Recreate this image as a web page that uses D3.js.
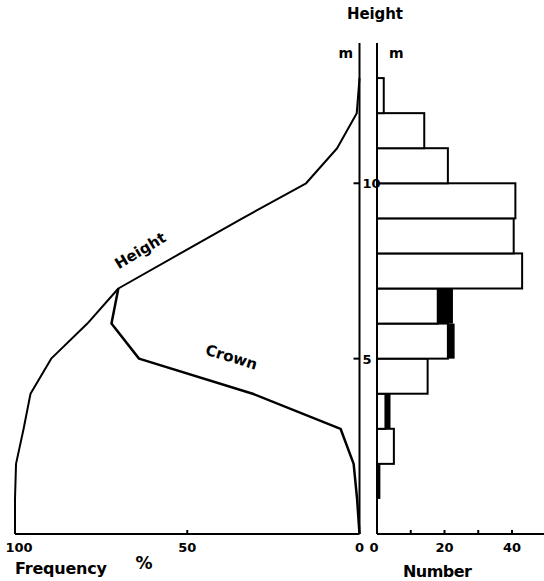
<!DOCTYPE html>
<html>
<head>
<meta charset="utf-8">
<script src="https://cdn.jsdelivr.net/npm/d3@7"></script>
<style>
  body { margin: 0; background: #fff; }
  text { font-family: "DejaVu Sans", sans-serif; font-weight: bold; fill: #000; }
</style>
</head>
<body>
<script>
// left panel: cumulative frequency (%) by height (m)
const freqHeights = [0, 1, 2, 3, 4, 5, 6, 7, 8, 9, 10, 11, 12, 13]
const heightFreq = [100, 100, 99.7, 97.5, 95.5, 89.5, 79, 70, 52, 34, 15.5, 6.5, 0.8, 0]
const crownHeights = [0, 1, 2, 3, 4, 5, 6, 7]
const crownFreq = [0, 0.7, 1.7, 5.5, 31, 64, 72, 70]

// right panel: number of trees per 1 m height class
const binLow = [0, 1, 2, 3, 4, 5, 6, 7, 8, 9, 10, 11, 12, 13]
const whiteCount = [0, 0, 5, 2.5, 15, 21, 18, 43, 40.5, 41, 21, 14, 2, 0]
const blackCount = [0, 1, 0, 1.5, 0, 2, 4.5, 0, 0, 0, 0, 0, 0, 0]

const freqTicks = [100, 50, 0]
const numTickLabels = [0, 20, 40]
const numTicks = [10, 20, 30, 40]
const heightTicks = [5, 10]

const width = 544
const height = 581

const svg = d3.select("body")
  .append("svg")
  .attr("width", width)
  .attr("height", height)

const y = d3.scaleLinear().domain([0, 14]).range([534, 43])
const xF = d3.scaleLinear().domain([100, 0]).range([15, 359.5])
const xN = d3.scaleLinear().domain([0, 40]).range([377, 512])

// histogram bars
const bins = binLow.map((b, i) => ({ lo: b, w: whiteCount[i], k: blackCount[i] }))

svg.selectAll("rect.white")
  .data(bins.filter(d => d.w > 0))
  .enter()
  .append("rect")
  .attr("class", "white")
  .attr("x", xN(0))
  .attr("y", d => y(d.lo + 1))
  .attr("width", d => xN(d.w) - xN(0))
  .attr("height", d => y(d.lo) - y(d.lo + 1))
  .attr("fill", "#fff")
  .attr("stroke", "#000")
  .attr("stroke-width", 2)

svg.selectAll("rect.black")
  .data(bins.filter(d => d.k > 0))
  .enter()
  .append("rect")
  .attr("class", "black")
  .attr("x", d => xN(d.w))
  .attr("y", d => y(d.lo + 1))
  .attr("width", d => xN(d.w + d.k) - xN(d.w))
  .attr("height", d => y(d.lo) - y(d.lo + 1))
  .attr("fill", "#000")

// axes lines
const axes = svg.append("g").attr("stroke", "#000").attr("stroke-width", 2)
axes.append("line").attr("x1", xF(0)).attr("x2", xF(0)).attr("y1", y(14)).attr("y2", y(0))
axes.append("line").attr("x1", xN(0)).attr("x2", xN(0)).attr("y1", y(14)).attr("y2", y(0))
axes.append("line").attr("x1", xF(100)).attr("x2", xF(0)).attr("y1", y(0)).attr("y2", y(0))
axes.append("line").attr("x1", xN(0)).attr("x2", width).attr("y1", y(0)).attr("y2", y(0))

// ticks
axes.selectAll("line.ht")
  .data(heightTicks)
  .enter()
  .append("line")
  .attr("x1", xF(0) - 6).attr("x2", xF(0))
  .attr("y1", d => y(d)).attr("y2", d => y(d))
axes.append("line")
  .attr("x1", xF(50)).attr("x2", xF(50))
  .attr("y1", y(0)).attr("y2", y(0) - 4)
axes.selectAll("line.nt")
  .data(numTicks)
  .enter()
  .append("line")
  .attr("x1", d => xN(d)).attr("x2", d => xN(d))
  .attr("y1", y(0)).attr("y2", y(0) - 4)

// curves
const line = d3.line().x(d => xF(d[1])).y(d => y(d[0]))

svg.append("path")
  .datum(freqHeights.map((h, i) => [h, heightFreq[i]]))
  .attr("d", line)
  .attr("fill", "none")
  .attr("stroke", "#000")
  .attr("stroke-width", 2)
  .attr("stroke-linejoin", "round")

svg.append("path")
  .datum(crownHeights.map((h, i) => [h, crownFreq[i]]))
  .attr("d", line)
  .attr("fill", "none")
  .attr("stroke", "#000")
  .attr("stroke-width", 2.5)
  .attr("stroke-linejoin", "round")

// tick labels
svg.selectAll("text.ht")
  .data(heightTicks)
  .enter()
  .append("text")
  .attr("x", xF(0) + 3)
  .attr("y", d => y(d) + 5)
  .style("font-size", "13px")
  .text(d => d)

svg.selectAll("text.ft")
  .data(freqTicks)
  .enter()
  .append("text")
  .attr("x", d => d === 100 ? xF(d) + 4 : xF(d))
  .attr("y", 552)
  .attr("text-anchor", "middle")
  .style("font-size", "13px")
  .text(d => d)

svg.selectAll("text.nt")
  .data(numTickLabels)
  .enter()
  .append("text")
  .attr("x", d => xN(d) - (d === 0 ? 3 : 0))
  .attr("y", 552)
  .attr("text-anchor", "middle")
  .style("font-size", "13px")
  .text(d => d)

// titles
svg.append("text").attr("x", 375).attr("y", 19).attr("text-anchor", "middle")
  .style("font-size", "15px").attr("textLength", 56).text("Height")
svg.append("text").attr("x", 353).attr("y", 58).attr("text-anchor", "end")
  .style("font-size", "14px").text("m")
svg.append("text").attr("x", 389).attr("y", 58)
  .style("font-size", "14px").text("m")

svg.append("text").attr("x", 15).attr("y", 574)
  .style("font-size", "16px").attr("textLength", 92).text("Frequency")
svg.append("text").attr("x", 144).attr("y", 569).attr("text-anchor", "middle")
  .style("font-size", "17px").text("%")
svg.append("text").attr("x", 403).attr("y", 577)
  .style("font-size", "16px").attr("textLength", 69).text("Number")

svg.append("text")
  .attr("transform", `translate(143,255) rotate(-31)`)
  .attr("text-anchor", "middle")
  .style("font-size", "15px")
  .text("Height")

svg.append("text")
  .attr("transform", `translate(230,362) rotate(17)`)
  .attr("text-anchor", "middle")
  .style("font-size", "15px")
  .text("Crown")
</script>
</body>
</html>
